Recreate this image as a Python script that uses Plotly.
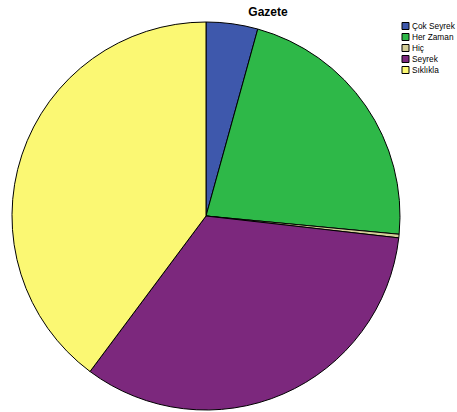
import plotly.graph_objects as go

# Gazete okuma sıklığı (yüzde)
categories = ["Çok Seyrek", "Her Zaman", "Hiç", "Seyrek", "Sıklıkla"]
values = [4.3, 22.2, 0.3, 33.4, 39.8]
colors = ["#3E58AC", "#2EB848", "#D3CE97", "#7C287D", "#FBF873"]

W, H = 457, 412
FONT = "Liberation Sans, Arial"

fig = go.Figure(go.Pie(
    labels=categories,
    values=values,
    sort=False,
    direction="clockwise",
    rotation=0,
    textinfo="none",
    hoverinfo="label+percent",
    showlegend=False,
    marker=dict(colors=colors, line=dict(color="#000000", width=1)),
    domain=dict(x=[12 / W, 400 / W], y=[2 / H, 1 - 22 / H]),
))

# Compact legend in the top-right corner: colour swatch + label
shapes, annotations = [], []
for i, (lab, col) in enumerate(zip(categories, colors)):
    cy = 26 + 11 * i
    shapes.append(dict(
        type="rect", xref="paper", yref="paper",
        x0=402 / W, x1=409 / W,
        y0=1 - (cy + 3.5) / H, y1=1 - (cy - 3.5) / H,
        fillcolor=col, line=dict(color="#000000", width=1),
    ))
    annotations.append(dict(
        text=lab, xref="paper", yref="paper",
        x=410 / W, y=1 - cy / H, xanchor="left", yanchor="middle",
        showarrow=False,
        font=dict(family=FONT, size=8.3, color="#000000"),
    ))

fig.update_layout(
    width=W,
    height=H,
    margin=dict(l=0, r=0, t=0, b=0),
    paper_bgcolor="white",
    plot_bgcolor="white",
    title=dict(
        text="<b>Gazete</b>",
        x=268 / W,
        xanchor="center",
        y=1 - 12 / H,
        yanchor="middle",
        font=dict(family=FONT, size=12, color="#000000"),
    ),
    shapes=shapes,
    annotations=annotations,
)

fig.write_html("out.html")
